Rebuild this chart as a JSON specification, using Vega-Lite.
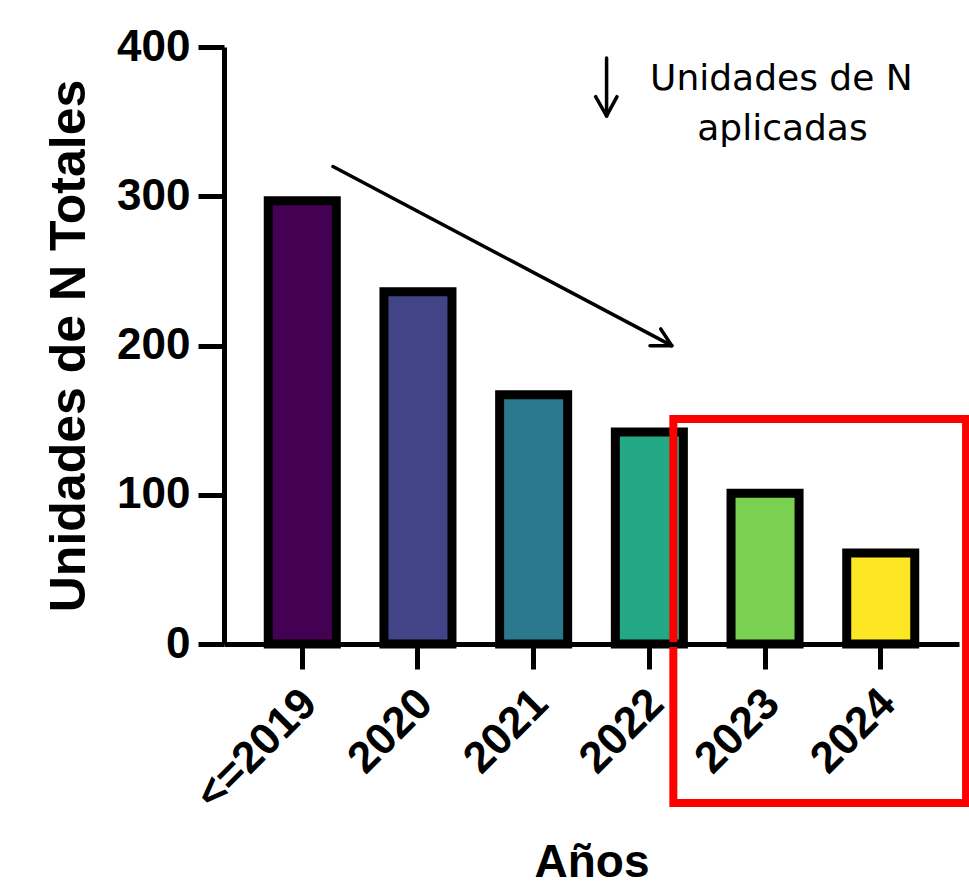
{
  "$schema": "https://vega.github.io/schema/vega-lite/v6.json",
  "autosize": {"type": "none"},
  "padding": {"left": 224, "top": 47, "right": 10, "bottom": 246},
  "width": 735,
  "height": 597,
  "background": "white",
  "config": {"view": {"stroke": null}, "axis": {"grid": false}},
  "datasets": {
    "bars": [
      {"year": "<=2019", "units": 297},
      {"year": "2020", "units": 236},
      {"year": "2021", "units": 167},
      {"year": "2022", "units": 142},
      {"year": "2023", "units": 101},
      {"year": "2024", "units": 61}
    ],
    "lines": [
      {"part": "trend", "x": 0.265, "y": 319.9, "x2": 3.193, "y2": 199.9},
      {"part": "head1", "x": 3.193, "y": 199.9, "x2": 3.098, "y2": 211.1},
      {"part": "head2", "x": 3.193, "y": 199.9, "x2": 3.005, "y2": 199.9},
      {"part": "down", "x": 2.63, "y": 392.6, "x2": 2.63, "y2": 353.8},
      {"part": "down1", "x": 2.63, "y": 353.8, "x2": 2.535, "y2": 366.7},
      {"part": "down2", "x": 2.63, "y": 353.8, "x2": 2.72, "y2": 366.7}
    ],
    "box": [{"x": 3.207, "x2": 5.737, "y": 150.8, "y2": -106.5}],
    "labels": [
      {"text": "Unidades de N", "x": 4.141, "y": 371.4},
      {"text": "aplicadas", "x": 4.15, "y": 337.7}
    ]
  },
  "layer": [
    {
      "data": {"name": "bars"},
      "mark": {"type": "bar", "stroke": "black", "strokeWidth": 9},
      "encoding": {
        "x": {
          "field": "year",
          "type": "nominal",
          "sort": null,
          "scale": {"paddingInner": 0.412, "paddingOuter": 0.3825},
          "axis": {
            "title": "Años",
            "titleFont": "Liberation Sans",
            "titleFontSize": 46,
            "titleFontWeight": "bold",
            "titleColor": "black",
            "titlePadding": 23,
            "labelFont": "Liberation Sans",
            "labelFontSize": 44,
            "labelFontWeight": "bold",
            "labelColor": "black",
            "labelAngle": -45,
            "labelPadding": 12,
            "labelOffset": -8,
            "labelOverlap": false,
            "domainColor": "black",
            "domainWidth": 5,
            "tickColor": "black",
            "tickWidth": 5,
            "tickSize": 25,
            "zindex": 1
          }
        },
        "y": {
          "field": "units",
          "type": "quantitative",
          "scale": {"domain": [0, 400], "nice": false},
          "axis": {
            "title": "Unidades de N Totales",
            "titleFont": "Liberation Sans",
            "titleFontSize": 50,
            "titleFontWeight": "bold",
            "titleColor": "black",
            "titlePadding": 22,
            "labelFont": "Liberation Sans",
            "labelFontSize": 44,
            "labelFontWeight": "bold",
            "labelColor": "black",
            "labelPadding": 8,
            "values": [0, 100, 200, 300, 400],
            "domainColor": "black",
            "domainWidth": 5,
            "tickColor": "black",
            "tickWidth": 5,
            "tickSize": 26,
            "zindex": 1
          }
        },
        "color": {
          "field": "year",
          "type": "nominal",
          "scale": {
            "domain": ["<=2019", "2020", "2021", "2022", "2023", "2024"],
            "range": ["#440154", "#414487", "#2a788e", "#22a884", "#7ad151", "#fde725"]
          },
          "legend": null
        }
      }
    },
    {
      "layer": [
        {
          "data": {"name": "lines"},
          "mark": {"type": "rule", "color": "black", "strokeWidth": 3.5, "strokeCap": "round"},
          "encoding": {
            "x": {"field": "x", "type": "quantitative", "scale": {"domain": [-0.6768, 5.6759], "nice": false, "zero": false}, "axis": null},
            "x2": {"field": "x2"},
            "y": {"field": "y", "type": "quantitative", "scale": {"domain": [0, 400], "nice": false}},
            "y2": {"field": "y2"}
          }
        },
        {
          "data": {"name": "box"},
          "mark": {"type": "rect", "fill": null, "fillOpacity": 0, "stroke": "#ff0000", "strokeWidth": 8},
          "encoding": {
            "x": {"field": "x", "type": "quantitative", "scale": {"domain": [-0.6768, 5.6759], "nice": false, "zero": false}, "axis": null},
            "x2": {"field": "x2"},
            "y": {"field": "y", "type": "quantitative", "scale": {"domain": [0, 400], "nice": false}},
            "y2": {"field": "y2"}
          }
        },
        {
          "data": {"name": "labels"},
          "mark": {"type": "text", "font": "DejaVu Sans", "fontSize": 36, "color": "black", "align": "center", "baseline": "alphabetic"},
          "encoding": {
            "x": {"field": "x", "type": "quantitative", "scale": {"domain": [-0.6768, 5.6759], "nice": false, "zero": false}, "axis": null},
            "y": {"field": "y", "type": "quantitative", "scale": {"domain": [0, 400], "nice": false}},
            "text": {"field": "text"}
          }
        }
      ]
    }
  ],
  "resolve": {"scale": {"x": "independent"}, "axis": {"x": "independent"}}
}
